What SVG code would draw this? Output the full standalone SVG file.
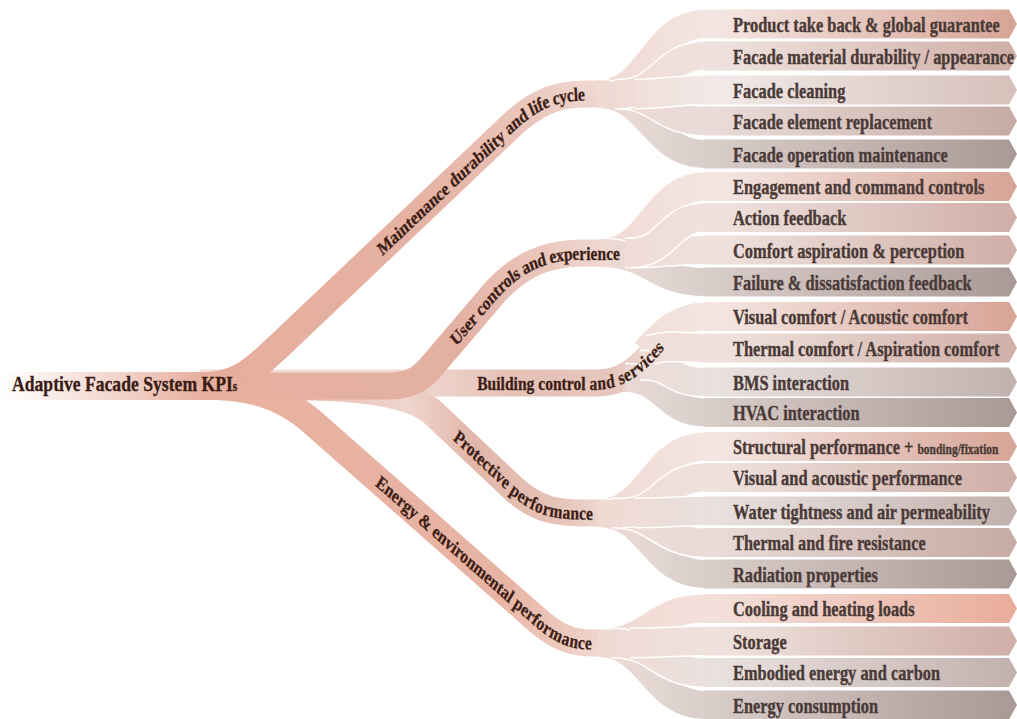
<svg xmlns="http://www.w3.org/2000/svg" width="1017" height="719" viewBox="0 0 1017 719">
<style>
.lt{font-family:"Liberation Serif","Times New Roman",serif;font-weight:bold;font-size:20px;fill:#4a3a37;stroke:#4a3a37;stroke-width:0.35px}
.bl{font-family:"Liberation Serif","Times New Roman",serif;font-weight:bold;font-size:19px;fill:#3d1e15;stroke:#3d1e15;stroke-width:0.3px;dominant-baseline:central}
.rt{font-family:"Liberation Serif","Times New Roman",serif;font-weight:bold;font-size:21.5px;fill:#3a1c14;stroke:#3a1c14;stroke-width:0.35px}
.rib{fill:none;stroke-width:27;stroke-linecap:butt}
.fw{fill:none;stroke:#ffffff;stroke-width:31}
.fan{fill:none;stroke-width:28}
</style>
<defs>
<linearGradient id="gRoot" gradientUnits="userSpaceOnUse" x1="0" y1="0" x2="240" y2="0"><stop offset="0" stop-color="#ffffff"/><stop offset="0.15" stop-color="#fcf3f0"/><stop offset="0.55" stop-color="#f0cfc5"/><stop offset="0.83" stop-color="#e7b0a0"/><stop offset="1" stop-color="#e7b0a0"/></linearGradient>
<linearGradient id="gM" gradientUnits="userSpaceOnUse" x1="230" y1="380" x2="610" y2="94"><stop offset="0" stop-color="#e6ae9d"/><stop offset="0.55" stop-color="#e5b2a3"/><stop offset="0.85" stop-color="#ebc7bc"/><stop offset="1" stop-color="#f0dad3"/></linearGradient>
<linearGradient id="gU" gradientUnits="userSpaceOnUse" x1="200" y1="386" x2="610" y2="253"><stop offset="0" stop-color="#e7b09f"/><stop offset="0.6" stop-color="#e3b0a2"/><stop offset="0.85" stop-color="#eac7bd"/><stop offset="1" stop-color="#f0dad3"/></linearGradient>
<linearGradient id="gB" gradientUnits="userSpaceOnUse" x1="390" y1="383" x2="660" y2="345"><stop offset="0" stop-color="#f2dcd5"/><stop offset="0.45" stop-color="#e5c1b6"/><stop offset="0.8" stop-color="#e6c6bc"/><stop offset="1" stop-color="#f0dad3"/></linearGradient>
<linearGradient id="gP" gradientUnits="userSpaceOnUse" x1="260" y1="0" x2="610" y2="0"><stop offset="0" stop-color="#e7b1a1"/><stop offset="0.42" stop-color="#efd6ce"/><stop offset="0.6" stop-color="#e2b7aa"/><stop offset="0.85" stop-color="#e6c2b7"/><stop offset="1" stop-color="#f0dad3"/></linearGradient>
<linearGradient id="gE" gradientUnits="userSpaceOnUse" x1="200" y1="386" x2="610" y2="643"><stop offset="0" stop-color="#e8b1a0"/><stop offset="0.75" stop-color="#e8b4a4"/><stop offset="0.92" stop-color="#edcabf"/><stop offset="1" stop-color="#f0dad3"/></linearGradient>
<linearGradient id="ls1" gradientUnits="userSpaceOnUse" x1="600" y1="0" x2="1017" y2="0"><stop offset="0" stop-color="#f0dad3"/><stop offset="0.28" stop-color="#f4e6e2"/><stop offset="1" stop-color="#d7a496"/></linearGradient>
<linearGradient id="ls2" gradientUnits="userSpaceOnUse" x1="600" y1="0" x2="1017" y2="0"><stop offset="0" stop-color="#f0dad3"/><stop offset="0.28" stop-color="#f3e0da"/><stop offset="1" stop-color="#e9ac99"/></linearGradient>
<linearGradient id="lr" gradientUnits="userSpaceOnUse" x1="600" y1="0" x2="1017" y2="0"><stop offset="0" stop-color="#f0dad3"/><stop offset="0.28" stop-color="#efe2de"/><stop offset="1" stop-color="#cfaea6"/></linearGradient>
<linearGradient id="ll" gradientUnits="userSpaceOnUse" x1="600" y1="0" x2="1017" y2="0"><stop offset="0" stop-color="#f0dad3"/><stop offset="0.28" stop-color="#f1eae8"/><stop offset="1" stop-color="#d6c0ba"/></linearGradient>
<linearGradient id="lr2" gradientUnits="userSpaceOnUse" x1="600" y1="0" x2="1017" y2="0"><stop offset="0" stop-color="#f0dad3"/><stop offset="0.28" stop-color="#e8dbd8"/><stop offset="1" stop-color="#c6aaa3"/></linearGradient>
<linearGradient id="lgl" gradientUnits="userSpaceOnUse" x1="600" y1="0" x2="1017" y2="0"><stop offset="0" stop-color="#f0dad3"/><stop offset="0.28" stop-color="#e9e1df"/><stop offset="1" stop-color="#c2b1ad"/></linearGradient>
<linearGradient id="lg" gradientUnits="userSpaceOnUse" x1="600" y1="0" x2="1017" y2="0"><stop offset="0" stop-color="#f0dad3"/><stop offset="0.14" stop-color="#e2d6d3"/><stop offset="0.28" stop-color="#d8ccc9"/><stop offset="1" stop-color="#a89996"/></linearGradient>
<path id="tp1" d="M 243.9 386 C 292.7 386 311 368 341.5 345 L 628 122 C 658.5 100 682.9 94 713.4 94"/>
<path id="tp2" d="M 243.9 386 L 475.6 386 C 506.1 386 518.3 375 532.9 360 L 603.7 292 C 634.1 265 664.6 254 707.3 253 L 756.1 253"/>
<path id="tp3" d="M 243.9 383 L 725.6 383 C 756.1 383 778 369 792.7 356 L 806.1 344"/>
<path id="tp4" d="M 243.9 386 C 390.2 386 481.7 385 524.4 410 L 628 490 C 658.5 512 682.9 513 719.5 513 L 723.2 513"/>
<path id="tp5" d="M 243.9 386 C 304.9 386 341.5 395 378 420 L 652.4 618 C 676.8 636 695.1 643 722 643"/>
</defs>

<g id="root-node">
<rect x="0" y="372" width="240" height="28" fill="url(#gRoot)"/>
</g>

<g id="connectors">
<path class="rib" stroke="url(#gB)" d="M 200 383 L 597 383 C 622 383 638 369 650 356 L 668 337"/>
<path class="rib" stroke="url(#gP)" d="M 200 386 C 320 386 395 385 430 410 L 515 490 C 540 512 560 513 590 513 L 615 513"/>
<path class="rib" stroke="url(#gE)" d="M 200 386 C 250 386 280 395 310 420 L 535 618 C 555 636 570 643 592 643 L 615 643"/>
<path class="rib" stroke="url(#gU)" d="M 200 386 L 390 386 C 415 386 425 375 437 360 L 495 292 C 520 265 545 254 580 253 L 615 253"/>
<path class="rib" stroke="url(#gM)" d="M 200 386 C 240 386 255 368 280 345 L 515 122 C 540 100 560 94 585 94 L 615 94"/>

<path class="fw" d="M 598 94 C 651 94 652 24 705 24"/><path class="fan" stroke="url(#ls1)" d="M 598 94 C 651 94 652 24 705 24"/>
<path class="fw" d="M 598 94 C 651 94 652 154 705 154"/><path class="fan" stroke="url(#lg)" d="M 598 94 C 651 94 652 154 705 154"/>
<path class="fw" d="M 615 94 C 660 94 660 121 705 121"/><path class="fan" stroke="url(#lr2)" d="M 615 94 C 660 94 660 121 705 121"/>
<path class="fw" d="M 620 94 C 662 94 663 56 705 56"/><path class="fan" stroke="url(#lr)" d="M 620 94 C 662 94 663 56 705 56"/>
<path class="fw" d="M 635 94 C 670 94 670 90 705 90"/><path class="fan" stroke="url(#ll)" d="M 635 94 C 670 94 670 90 705 90"/>

<path class="fw" d="M 600 253 C 652 253 653 186.5 705 186.5"/><path class="fan" stroke="url(#ls1)" d="M 600 253 C 652 253 653 186.5 705 186.5"/>
<path class="fw" d="M 600 253 C 652 253 653 282 705 282"/><path class="fan" stroke="url(#lg)" d="M 600 253 C 652 253 653 282 705 282"/>
<path class="fw" d="M 625 253 C 665 253 665 250 705 250"/><path class="fan" stroke="url(#lr)" d="M 625 253 C 665 253 665 250 705 250"/>
<path class="fw" d="M 630 253 C 668 253 668 217.5 705 217.5"/><path class="fan" stroke="url(#lr)" d="M 630 253 C 668 253 668 217.5 705 217.5"/>

<path class="fw" d="M 645 352 C 665 330 680 316.5 705 316.5"/><path class="fan" stroke="url(#ls1)" d="M 645 352 C 665 330 680 316.5 705 316.5"/>
<path class="fw" d="M 625 378 C 665 378 665 412.5 705 412.5"/><path class="fan" stroke="url(#lg)" d="M 625 378 C 665 378 665 412.5 705 412.5"/>
<path class="fw" d="M 640 365 C 675 365 670 382 705 382"/><path class="fan" stroke="url(#lgl)" d="M 640 365 C 675 365 670 382 705 382"/>
<path class="fw" d="M 650 350 C 670 344 685 348 705 348"/><path class="fan" stroke="url(#lr)" d="M 650 350 C 670 344 685 348 705 348"/>

<path class="fw" d="M 598 513 C 651 513 652 446.5 705 446.5"/><path class="fan" stroke="url(#ls1)" d="M 598 513 C 651 513 652 446.5 705 446.5"/>
<path class="fw" d="M 598 513 C 651 513 652 574 705 574"/><path class="fan" stroke="url(#lg)" d="M 598 513 C 651 513 652 574 705 574"/>
<path class="fw" d="M 612 513 C 658 513 659 542.5 705 542.5"/><path class="fan" stroke="url(#lr2)" d="M 612 513 C 658 513 659 542.5 705 542.5"/>
<path class="fw" d="M 622 513 C 663 513 664 477.5 705 477.5"/><path class="fan" stroke="url(#lr)" d="M 622 513 C 663 513 664 477.5 705 477.5"/>
<path class="fw" d="M 635 513 C 670 513 670 511 705 511"/><path class="fan" stroke="url(#lgl)" d="M 635 513 C 670 513 670 511 705 511"/>

<path class="fw" d="M 598 643 C 651 643 652 608.5 705 608.5"/><path class="fan" stroke="url(#ls2)" d="M 598 643 C 651 643 652 608.5 705 608.5"/>
<path class="fw" d="M 598 643 C 651 643 652 705 705 705"/><path class="fan" stroke="url(#lg)" d="M 598 643 C 651 643 652 705 705 705"/>
<path class="fw" d="M 612 643 C 658 643 659 672.5 705 672.5"/><path class="fan" stroke="url(#lgl)" d="M 612 643 C 658 643 659 672.5 705 672.5"/>
<path class="fw" d="M 630 643 C 668 643 668 641 705 641"/><path class="fan" stroke="url(#lr)" d="M 630 643 C 668 643 668 641 705 641"/>
</g>

<g id="root-label"><text class="rt" transform="translate(12 391) scale(0.82 1)">Adaptive Facade System KPI<tspan font-size="14">s</tspan></text></g>

<g id="b-maint"><text class="bl" transform="scale(0.82 1)"><textPath href="#tp1" startOffset="100%" text-anchor="end">Maintenance durability and life cycle</textPath></text></g>
<g id="b-user"><text class="bl" transform="scale(0.82 1)"><textPath href="#tp2" startOffset="100%" text-anchor="end">User controls and experience</textPath></text></g>
<g id="b-build"><text class="bl" transform="scale(0.82 1)"><textPath href="#tp3" startOffset="100%" text-anchor="end">Building control and services</textPath></text></g>
<g id="b-prot"><text class="bl" transform="scale(0.82 1)"><textPath href="#tp4" startOffset="100%" text-anchor="end">Protective performance</textPath></text></g>
<g id="b-energy"><text class="bl" transform="scale(0.82 1)"><textPath href="#tp5" startOffset="100%" text-anchor="end">Energy &amp; environmental performance</textPath></text></g>

<g id="l1-1"><polygon fill="url(#ls1)" points="704,9.5 1009,9.5 1017,24 1009,38.5 704,38.5"/><text class="lt" transform="translate(733 31.5) scale(0.82 1)">Product take back &amp; global guarantee</text></g>
<g id="l1-2"><polygon fill="url(#lr)" points="704,41.5 1009,41.5 1017,56 1009,70.5 704,70.5"/><text class="lt" transform="translate(733 63.5) scale(0.82 1)">Facade material durability / appearance</text></g>
<g id="l1-3"><polygon fill="url(#ll)" points="704,75.5 1009,75.5 1017,90 1009,104.5 704,104.5"/><text class="lt" transform="translate(733 97.5) scale(0.82 1)">Facade cleaning</text></g>
<g id="l1-4"><polygon fill="url(#lr2)" points="704,106.5 1009,106.5 1017,121 1009,135.5 704,135.5"/><text class="lt" transform="translate(733 128.5) scale(0.82 1)">Facade element replacement</text></g>
<g id="l1-5"><polygon fill="url(#lg)" points="704,139.5 1009,139.5 1017,154 1009,168.5 704,168.5"/><text class="lt" transform="translate(733 161.5) scale(0.82 1)">Facade operation maintenance</text></g>

<g id="l2-1"><polygon fill="url(#ls1)" points="704,172 1009,172 1017,186.5 1009,201 704,201"/><text class="lt" transform="translate(733 194) scale(0.82 1)">Engagement and command controls</text></g>
<g id="l2-2"><polygon fill="url(#lr)" points="704,203 1009,203 1017,217.5 1009,232 704,232"/><text class="lt" transform="translate(733 225) scale(0.82 1)">Action feedback</text></g>
<g id="l2-3"><polygon fill="url(#lr)" points="704,235.5 1009,235.5 1017,250 1009,264.5 704,264.5"/><text class="lt" transform="translate(733 257.5) scale(0.82 1)">Comfort aspiration &amp; perception</text></g>
<g id="l2-4"><polygon fill="url(#lg)" points="704,267.5 1009,267.5 1017,282 1009,296.5 704,296.5"/><text class="lt" transform="translate(733 289.5) scale(0.82 1)">Failure &amp; dissatisfaction feedback</text></g>

<g id="l3-1"><polygon fill="url(#ls1)" points="704,302 1009,302 1017,316.5 1009,331 704,331"/><text class="lt" transform="translate(733 324) scale(0.82 1)">Visual comfort / Acoustic comfort</text></g>
<g id="l3-2"><polygon fill="url(#lr)" points="704,333.5 1009,333.5 1017,348 1009,362.5 704,362.5"/><text class="lt" transform="translate(733 355.5) scale(0.82 1)">Thermal comfort / Aspiration comfort</text></g>
<g id="l3-3"><polygon fill="url(#lgl)" points="704,367.5 1009,367.5 1017,382 1009,396.5 704,396.5"/><text class="lt" transform="translate(733 389.5) scale(0.82 1)">BMS interaction</text></g>
<g id="l3-4"><polygon fill="url(#lg)" points="704,398 1009,398 1017,412.5 1009,427 704,427"/><text class="lt" transform="translate(733 420) scale(0.82 1)">HVAC interaction</text></g>

<g id="l4-1"><polygon fill="url(#ls1)" points="704,432 1009,432 1017,446.5 1009,461 704,461"/><text class="lt" transform="translate(733 454) scale(0.82 1)">Structural performance + <tspan font-size="14">bonding/fixation</tspan></text></g>
<g id="l4-2"><polygon fill="url(#lr)" points="704,463 1009,463 1017,477.5 1009,492 704,492"/><text class="lt" transform="translate(733 485) scale(0.82 1)">Visual and acoustic performance</text></g>
<g id="l4-3"><polygon fill="url(#lgl)" points="704,496.5 1009,496.5 1017,511 1009,525.5 704,525.5"/><text class="lt" transform="translate(733 518.5) scale(0.82 1)">Water tightness and air permeability</text></g>
<g id="l4-4"><polygon fill="url(#lr2)" points="704,528 1009,528 1017,542.5 1009,557 704,557"/><text class="lt" transform="translate(733 550) scale(0.82 1)">Thermal and fire resistance</text></g>
<g id="l4-5"><polygon fill="url(#lg)" points="704,559.5 1009,559.5 1017,574 1009,588.5 704,588.5"/><text class="lt" transform="translate(733 581.5) scale(0.82 1)">Radiation properties</text></g>

<g id="l5-1"><polygon fill="url(#ls2)" points="704,594 1009,594 1017,608.5 1009,623 704,623"/><text class="lt" transform="translate(733 616) scale(0.82 1)">Cooling and heating loads</text></g>
<g id="l5-2"><polygon fill="url(#lr)" points="704,626.5 1009,626.5 1017,641 1009,655.5 704,655.5"/><text class="lt" transform="translate(733 648.5) scale(0.82 1)">Storage</text></g>
<g id="l5-3"><polygon fill="url(#lgl)" points="704,658 1009,658 1017,672.5 1009,687 704,687"/><text class="lt" transform="translate(733 680) scale(0.82 1)">Embodied energy and carbon</text></g>
<g id="l5-4"><polygon fill="url(#lg)" points="704,690.5 1009,690.5 1017,705 1009,719.5 704,719.5"/><text class="lt" transform="translate(733 712.5) scale(0.82 1)">Energy consumption</text></g>
</svg>
